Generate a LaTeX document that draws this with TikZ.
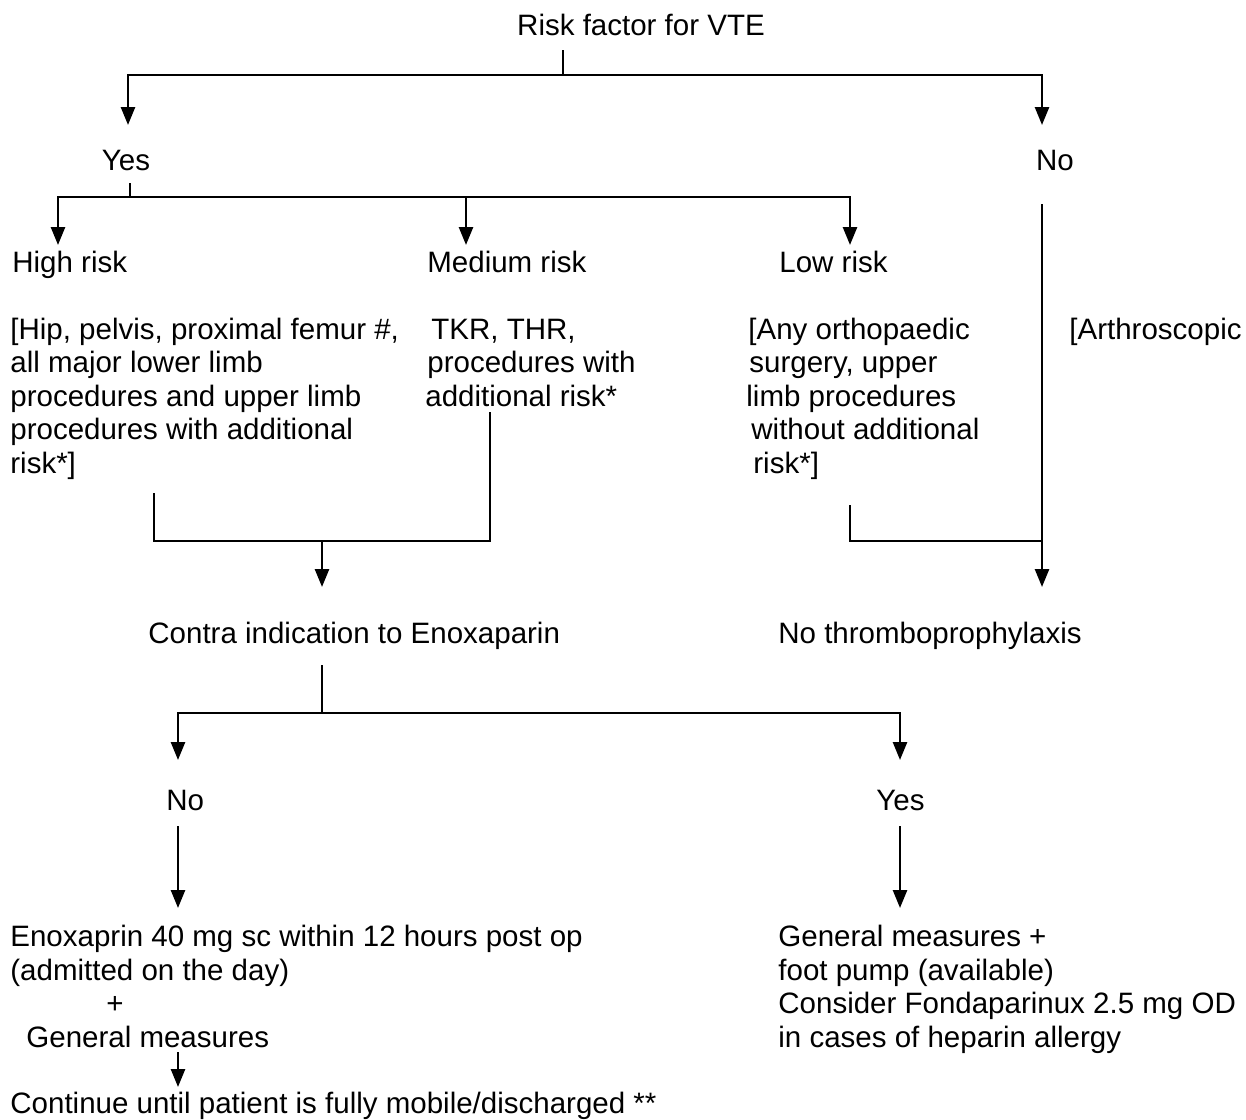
\documentclass[tikz,border=0pt]{standalone}
\usepackage{fontspec}
\setmainfont{Liberation Sans}
\usetikzlibrary{arrows.meta}

\begin{document}
\begin{tikzpicture}[
    x=0.5pt, y=-0.5pt,
    txt/.style={inner sep=0pt, anchor=base west, align=left, font=\fontsize{14.75}{16.75}\selectfont},
    arr/.style={-{Triangle[length=9pt, width=7pt]}, line width=1.3pt},
    link/.style={line width=0.8pt}
]
    \useasboundingbox (0,0) rectangle (1246,1119);

    % texts (multi-line blocks are placed by their last line)
    \node[txt, anchor=base] (risk) at (641,35) {Risk factor for VTE};
    \node[txt, anchor=base] (yes1) at (126,170) {Yes};
    \node[txt, anchor=base] (no1) at (1055,170) {No};
    \node[txt] (high) at (12,272) {High risk};
    \node[txt] (med) at (427,272) {Medium risk};
    \node[txt] (low) at (779,272) {Low risk};
    \node[txt] (highlist) at (10,473) {[Hip, pelvis, proximal femur \#,\\all major lower limb\\procedures and upper limb\\procedures with additional\\risk*]};
    \node[txt] (medlist) at (425,406) {\hspace*{3pt}TKR, THR,\\\hspace*{1pt}procedures with\\additional risk*};
    \node[txt] (lowlist) at (746,473) {\hspace*{1pt}[Any orthopaedic\\\hspace*{1.5pt}surgery, upper\\limb procedures\\\hspace*{2.5pt}without additional\\\hspace*{3.5pt}risk*]};
    \node[txt] (arthro) at (1069,339) {[Arthroscopic};
    \node[txt] (contra) at (148,643) {Contra indication to Enoxaparin};
    \node[txt] (nothrombo) at (778,643) {No thromboprophylaxis};
    \node[txt] (no2) at (166,810) {No};
    \node[txt] (yes2) at (876,810) {Yes};
    \node[txt] (enox) at (10,1047) {Enoxaprin 40 mg sc within 12 hours post op\\(admitted on the day)\\\hspace*{48pt}+\\\hspace*{8pt}General measures};
    \node[txt] (general) at (778,1047) {General measures +\\foot pump (available)\\Consider Fondaparinux 2.5 mg OD\\in cases of heparin allergy};
    \node[txt] (continue) at (10,1113) {Continue until patient is fully mobile/discharged **};

    % junctions
    \coordinate (c0) at (563,50);
    \coordinate (c1) at (563,75);
    \coordinate (yesT) at (128,125);
    \coordinate (noT) at (1042,125);
    \coordinate (y0) at (130,183);
    \coordinate (y1) at (130,197);
    \coordinate (highT) at (58,245);
    \coordinate (medT) at (466,245);
    \coordinate (lowT) at (850,245);
    \coordinate (n0) at (1042,204);
    \coordinate (nthT) at (1042,587);
    \coordinate (h0) at (154,493);
    \coordinate (m0) at (490,412);
    \coordinate (m1) at (322,541);
    \coordinate (contraT) at (322,587);
    \coordinate (l0) at (850,505);
    \coordinate (l1) at (1042,541);
    \coordinate (k0) at (322,665);
    \coordinate (k1) at (322,713);
    \coordinate (noT2) at (178,760);
    \coordinate (yesT2) at (900,760);
    \coordinate (e0) at (178,826);
    \coordinate (enoxT) at (178,908);
    \coordinate (g0) at (900,826);
    \coordinate (genT) at (900,908);
    \coordinate (f0) at (178,1052);
    \coordinate (contT) at (178,1087);

    % connectors
    \draw[link] (c0) -- (c1);
    \draw[arr] (c1) -| (yesT);
    \draw[arr] (c1) -| (noT);
    \draw[link] (y0) -- (y1);
    \draw[arr] (y1) -| (highT);
    \draw[arr] (y1) -| (lowT);
    \draw[arr] (medT |- y1) -- (medT);
    \draw[arr] (n0) -- (nthT);
    \draw[link] (h0) |- (m1) -| (m0);
    \draw[arr] (m1) -- (contraT);
    \draw[link] (l0) |- (l1);
    \draw[link] (k0) -- (k1);
    \draw[arr] (k1) -| (noT2);
    \draw[arr] (k1) -| (yesT2);
    \draw[arr] (e0) -- (enoxT);
    \draw[arr] (g0) -- (genT);
    \draw[arr] (f0) -- (contT);
\end{tikzpicture}
\end{document}
